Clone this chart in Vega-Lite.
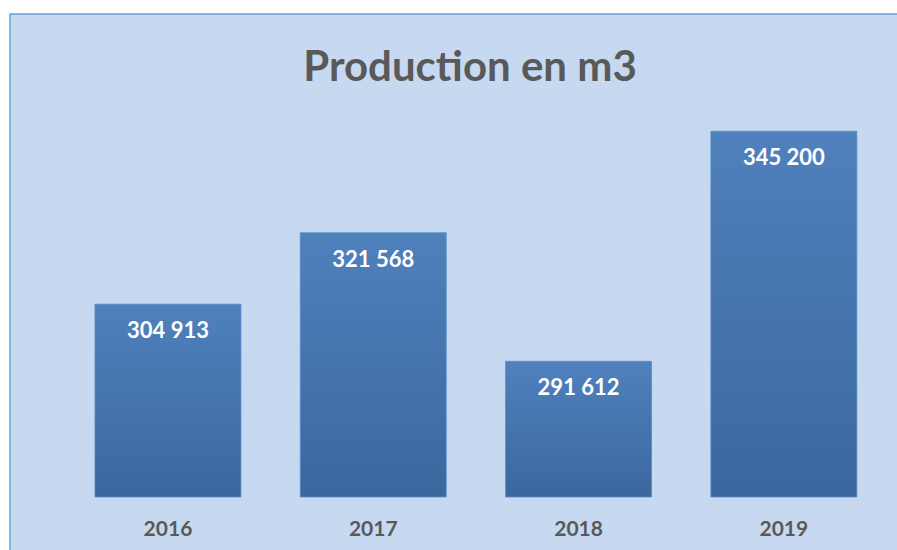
{
  "$schema": "https://vega.github.io/schema/vega-lite/v6.json",
  "autosize": {"type": "none"},
  "width": 892,
  "height": 540,
  "padding": {"left": 10, "top": 14, "right": 0, "bottom": 0},
  "background": "white",
  "title": {
    "text": "Production en m3",
    "font": "Lato",
    "fontSize": 42,
    "fontWeight": "bold",
    "color": "#595959",
    "anchor": "middle",
    "frame": "group",
    "baseline": "alphabetic",
    "offset": -109,
    "dx": 14
  },
  "config": {
    "view": {"fill": "#c6d9f0", "stroke": "#6a9fd8", "strokeWidth": 1.5},
    "locale": {"number": {"decimal": ",", "thousands": " ", "grouping": [3], "currency": ["", " €"]}}
  },
  "data": {
    "values": [
      {"annee": "2016", "production": 304913},
      {"annee": "2017", "production": 321568},
      {"annee": "2018", "production": 291612},
      {"annee": "2019", "production": 345200}
    ]
  },
  "encoding": {
    "x": {
      "field": "annee",
      "type": "ordinal",
      "scale": {"paddingInner": 0.289, "paddingOuter": 0.3169, "align": 0.653},
      "axis": {
        "title": null,
        "orient": "bottom",
        "offset": -25,
        "domain": false,
        "ticks": false,
        "labelPadding": 0,
        "labelBaseline": "middle",
        "labelAngle": 0,
        "labelFont": "Lato",
        "labelFontSize": 21,
        "labelFontWeight": "bold",
        "labelColor": "#595959"
      }
    }
  },
  "layer": [
    {
      "mark": {
        "type": "bar",
        "stroke": "#5c8ac4",
        "strokeWidth": 0.8,
        "color": {
          "gradient": "linear",
          "x1": 0, "y1": 0, "x2": 0, "y2": 1,
          "stops": [
            {"offset": 0, "color": "#4f81bd"},
            {"offset": 1, "color": "#3b679e"}
          ]
        }
      },
      "encoding": {
        "y": {
          "field": "production",
          "type": "quantitative",
          "scale": {"domain": [246719, 372535], "zero": false, "nice": false},
          "axis": null
        },
        "y2": {"datum": 260000}
      }
    },
    {
      "mark": {
        "type": "text",
        "font": "Lato",
        "fontSize": 22,
        "fontWeight": "bold",
        "color": "white",
        "baseline": "middle",
        "dy": 27
      },
      "encoding": {
        "y": {"field": "production", "type": "quantitative"},
        "text": {"field": "production", "type": "quantitative", "format": ",d"}
      }
    }
  ]
}
